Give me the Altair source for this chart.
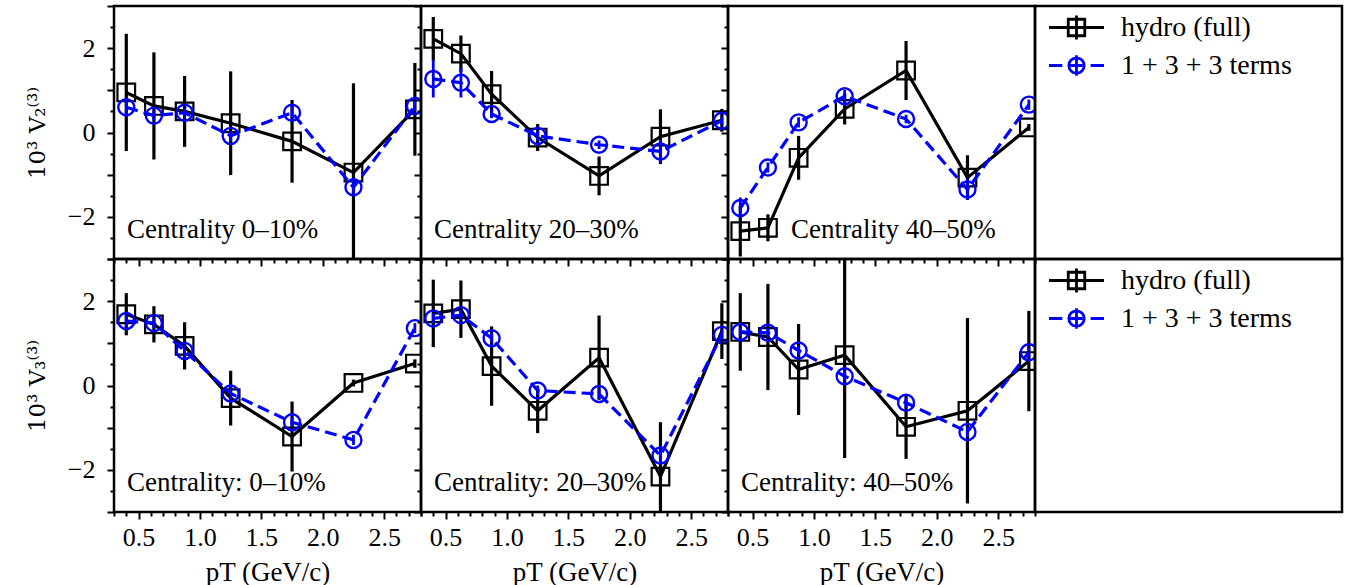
import altair as alt
import pandas as pd

FONT = "Liberation Serif"
TITLE_FONT_Y = "DejaVu Serif"

# ---------------- data ----------------
pt = [0.4, 0.625, 0.875, 1.25, 1.75, 2.25, 2.75]
series_names = ["hydro (full)", "1 + 3 + 3 terms"]

# V2^(3)
v2_c0_hydro = [0.95, 0.63, 0.50, 0.22, -0.21, -0.95, 0.55]
v2_c0_hydro_err = [1.39, 1.27, 0.84, 1.23, 0.98, 2.12, 1.10]
v2_c0_terms = [0.60, 0.40, 0.47, -0.08, 0.47, -1.30, 0.63]
v2_c0_terms_err = [0.15, 0.12, 0.12, 0.12, 0.15, 0.15, 0.12]

v2_c20_hydro = [2.22, 1.87, 0.91, -0.12, -1.03, -0.10, 0.29]
v2_c20_hydro_err = [0.52, 0.43, 0.55, 0.32, 0.46, 0.65, 0.27]
v2_c20_terms = [1.27, 1.18, 0.44, -0.08, -0.29, -0.45, 0.28]
v2_c20_terms_err = [0.44, 0.35, 0.10, 0.12, 0.10, 0.28, 0.10]

v2_c40_hydro = [-2.34, -2.26, -0.60, 0.56, 1.47, -1.07, 0.12]
v2_c40_hydro_err = [0.60, 0.32, 0.52, 0.37, 0.70, 0.53, 0.08]
v2_c40_terms = [-1.79, -0.83, 0.24, 0.86, 0.32, -1.35, 0.66]
v2_c40_terms_err = [0.25, 0.12, 0.12, 0.15, 0.10, 0.25, 0.12]

# V3^(3)
v3_c0_hydro = [1.69, 1.45, 0.94, -0.30, -1.21, 0.06, 0.52]
v3_c0_hydro_err = [0.50, 0.43, 0.56, 0.65, 0.83, 0.08, 0.10]
v3_c0_terms = [1.53, 1.48, 0.82, -0.19, -0.87, -1.29, 1.36]
v3_c0_terms_err = [0.15, 0.12, 0.15, 0.15, 0.12, 0.12, 0.12]

v3_c20_hydro = [1.71, 1.81, 0.46, -0.60, 0.66, -2.16, 1.29]
v3_c20_hydro_err = [0.80, 0.68, 0.94, 0.53, 1.00, 1.29, 0.66]
v3_c20_terms = [1.59, 1.67, 1.12, -0.12, -0.20, -1.66, 1.20]
v3_c20_terms_err = [0.12, 0.12, 0.12, 0.12, 0.12, 0.15, 0.12]

v3_c40_hydro = [1.27, 1.15, 0.38, 0.72, -0.98, -0.60, 0.58]
v3_c40_hydro_err = [0.92, 1.26, 1.08, 2.44, 0.76, 2.20, 1.19]
v3_c40_terms = [1.27, 1.25, 0.83, 0.22, -0.41, -1.10, 0.79]
v3_c40_terms_err = [0.12, 0.12, 0.12, 0.12, 0.12, 0.12, 0.12]

row_labels = [
    ["Centrality 0\u201310%", "Centrality 20\u201330%", "Centrality 40\u201350%"],
    ["Centrality: 0\u201310%", "Centrality: 20\u201330%", "Centrality: 40\u201350%"],
]
y_titles = ["10\u00b3 V\u2082\u207d\u00b3\u207e", "10\u00b3 V\u2083\u207d\u00b3\u207e"]
x_title = "pT (GeV/c)"

x_tick_values = [round(0.3 + 0.1 * i, 1) for i in range(26)]
y_tick_values = [round(-3 + 0.5 * i, 1) for i in range(13)]

# ---------------- layout / style ----------------
W, H = 307, 253
BLUE = "#0000ff"

x_scale = alt.Scale(domain=[0.3, 2.8], nice=False, zero=False)
y_scale = alt.Scale(domain=[-3, 3], nice=False, zero=False)

X_MAJOR = "abs(datum.value*2 - round(datum.value*2)) < 1e-6"
Y_MAJOR = "abs(datum.value % 2) < 1e-6"
Y_TICK_MAJOR = "abs(datum.value % 1) < 1e-6"


def make_x_axis(show):
    return alt.Axis(
        values=x_tick_values,
        labels=show,
        labelExpr=X_MAJOR + " ? format(datum.value, '.1f') : ''",
        labelFontSize={"condition": {"test": X_MAJOR, "value": 26}, "value": 0},
        title=x_title if show else None,
        titleFont=FONT, titleFontSize=27,
        tickSize={"condition": {"test": X_MAJOR, "value": 7}, "value": 4},
        labelOverlap=False,
        labelFlush=False,
        labelPadding=5,
        titlePadding=9,
    )


def make_y_axis(show, title):
    return alt.Axis(
        values=y_tick_values,
        labels=show,
        labelExpr=Y_MAJOR + " ? format(datum.value, 'd') : ''",
        labelFontSize={"condition": {"test": Y_MAJOR, "value": 26}, "value": 0},
        title=title if show else None,
        titleFont=TITLE_FONT_Y, titleFontSize=23,
        tickSize={"condition": {"test": Y_TICK_MAJOR, "value": 7}, "value": 4},
        labelOverlap=False,
        labelFlush=False,
        labelPadding=12,
        titlePadding=18,
    )


def panel(row, col, hy, hy_e, bl, bl_e):
    dh = pd.DataFrame({
        "pt": pt, "v": hy,
        "lo": [a - b for a, b in zip(hy, hy_e)],
        "hi": [a + b for a, b in zip(hy, hy_e)],
    })
    db = pd.DataFrame({
        "pt": pt, "v": bl,
        "lo": [a - b for a, b in zip(bl, bl_e)],
        "hi": [a + b for a, b in zip(bl, bl_e)],
    })
    X = alt.X("pt:Q", scale=x_scale, axis=make_x_axis(row == 1))
    Yv = alt.Y("v:Q", scale=y_scale, axis=make_y_axis(col == 0, y_titles[row]))
    Ylo = alt.Y("lo:Q", scale=y_scale, axis=make_y_axis(col == 0, y_titles[row]))

    h_err = alt.Chart(dh).mark_rule(color="black", strokeWidth=3.2, clip=True).encode(x=X, y=Ylo, y2="hi:Q")
    h_line = alt.Chart(dh).mark_line(color="black", strokeWidth=3.2, clip=True).encode(x=X, y=Yv)
    h_pts = alt.Chart(dh).mark_point(shape="square", filled=False, color="black", size=310,
                                     strokeWidth=2.2, opacity=1, clip=True).encode(x=X, y=Yv)
    b_err = alt.Chart(db).mark_rule(color=BLUE, strokeWidth=2.8, clip=True).encode(x=X, y=Ylo, y2="hi:Q")
    b_line = alt.Chart(db).mark_line(color=BLUE, strokeWidth=3.2, strokeDash=[12, 6], clip=True).encode(x=X, y=Yv)
    b_pts = alt.Chart(db).mark_point(shape="circle", filled=False, color=BLUE, size=256,
                                     strokeWidth=2.4, opacity=1, clip=True).encode(x=X, y=Yv)

    lx = 63 if (row == 0 and col == 2) else 13
    txt = alt.Chart(pd.DataFrame({"t": [row_labels[row][col]]})).mark_text(
        align="left", baseline="middle", font=FONT, fontSize=27, color="black"
    ).encode(text="t:N", x=alt.value(lx), y=alt.value(224))

    return alt.layer(h_err, h_line, h_pts, b_err, b_line, b_pts, txt).properties(width=W, height=H)


# legend symbols: line + marker + error bar, as SVG paths
hydro_path = "M-2,0H2M0,-0.87V0.87M-0.6,-0.6H0.6V0.6H-0.6Z"
terms_path = ("M-2,0H-1.03M-0.58,0H0.44M1.03,0H2M0,-0.75V0.75"
              "M0.56,0A0.56,0.56,0,1,1,-0.56,0A0.56,0.56,0,1,1,0.56,0")


def legend_panel():
    df = pd.DataFrame({"series": series_names, "px": [-5.0, -5.0], "py": [-5.0, -5.0]})
    leg = alt.Legend(
        title=None, orient="none", legendX=26, legendY=6, padding=0,
        labelFont=FONT, labelFontSize=28, labelColor="black", labelOffset=29, labelLimit=400,
        symbolSize=756, symbolStrokeWidth=2.8, rowPadding=3, symbolFillColor="transparent",
        symbolOpacity=1,
    )
    return alt.Chart(df).mark_point(filled=False, size=756, strokeWidth=2.8, opacity=1, clip=True).encode(
        x=alt.X("px:Q", scale=alt.Scale(domain=[0, 1]), axis=None),
        y=alt.Y("py:Q", scale=alt.Scale(domain=[0, 1]), axis=None),
        color=alt.Color("series:N", scale=alt.Scale(domain=series_names, range=["black", BLUE]), legend=leg),
        shape=alt.Shape("series:N", scale=alt.Scale(domain=series_names, range=[hydro_path, terms_path]), legend=leg),
    ).properties(width=W, height=H)


data = [
    [(v2_c0_hydro, v2_c0_hydro_err, v2_c0_terms, v2_c0_terms_err),
     (v2_c20_hydro, v2_c20_hydro_err, v2_c20_terms, v2_c20_terms_err),
     (v2_c40_hydro, v2_c40_hydro_err, v2_c40_terms, v2_c40_terms_err)],
    [(v3_c0_hydro, v3_c0_hydro_err, v3_c0_terms, v3_c0_terms_err),
     (v3_c20_hydro, v3_c20_hydro_err, v3_c20_terms, v3_c20_terms_err),
     (v3_c40_hydro, v3_c40_hydro_err, v3_c40_terms, v3_c40_terms_err)],
]

charts = []
for r in range(2):
    for c in range(3):
        charts.append(panel(r, c, *data[r][c]))
    charts.append(legend_panel())

chart = alt.concat(*charts, columns=4, spacing=0, bounds="flush").resolve_scale(
    color="independent", shape="independent"
).properties(
    padding={"left": 25, "top": 3, "right": 5, "bottom": 2}
).configure_view(
    stroke="black", strokeWidth=2.5
).configure_axis(
    domain=False, grid=False, ticks=True, tickColor="black", tickWidth=2,
    labelFont=FONT, labelColor="black",
    titleFontWeight="normal", titleColor="black",
)

chart.save("out.html", embed_options={"renderer": "svg", "actions": False})
